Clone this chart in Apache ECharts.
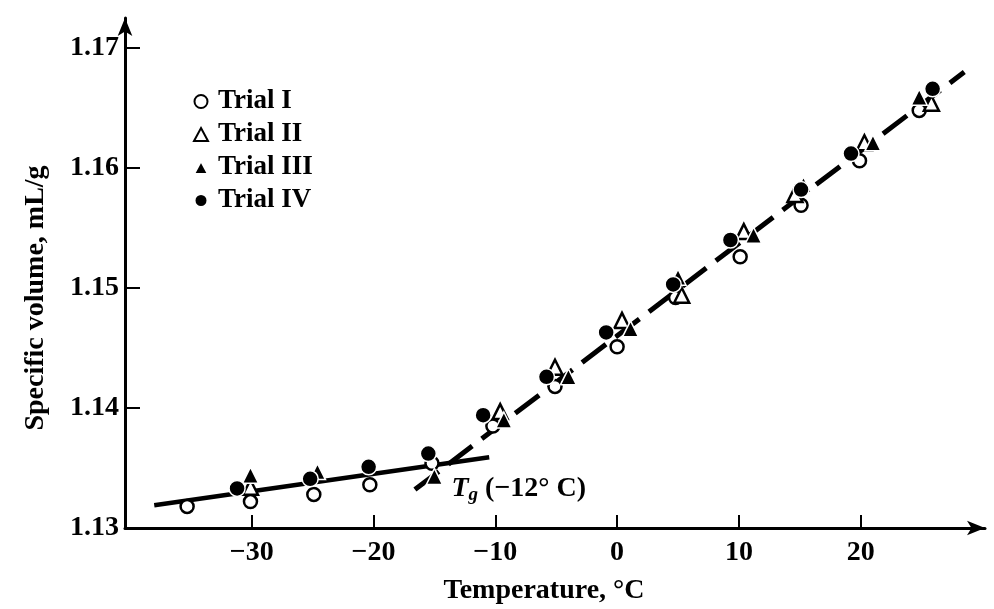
<!DOCTYPE html>
<html>
<head>
<meta charset="utf-8">
<script src="https://cdn.jsdelivr.net/npm/echarts@6/dist/echarts.min.js"></script>
<style>
html,body{margin:0;padding:0;background:#fff;}
#c{width:994px;height:609px;}
</style>
</head>
<body>
<div id="c"></div>
<script>
// ---- data ----
var xTicks = [-30, -20, -10, 0, 10, 20];
var yTicks = [1.13, 1.14, 1.15, 1.16, 1.17];

var trial1X = [-35.3, -30.1, -24.9, -20.3, -15.2, -10.2, -5.1, 0.0, 4.8, 10.1, 15.1, 19.9, 24.8];
var trial1Y = [1.1318, 1.1322, 1.1328, 1.1336, 1.1354, 1.1385, 1.1418, 1.1451, 1.1492, 1.1526, 1.1569, 1.1606, 1.1648];

var trial2X = [-30.1, -9.6, -5.1, 0.4, 5.3, 10.4, 14.6, 20.3, 25.8];
var trial2Y = [1.1334, 1.1397, 1.1434, 1.1473, 1.1494, 1.1547, 1.1578, 1.1621, 1.1654];

var trial3X = [-30.1, -24.6, -15.0, -9.3, -4.0, 1.1, 5.0, 11.2, 15.3, 21.0, 24.8];
var trial3Y = [1.1344, 1.1347, 1.1343, 1.1390, 1.1426, 1.1466, 1.1509, 1.1544, 1.1586, 1.1621, 1.1659];

var trial4X = [-31.2, -25.2, -20.4, -15.5, -11.0, -5.8, -0.9, 4.6, 9.3, 15.1, 19.2, 25.9];
var trial4Y = [1.1333, 1.1341, 1.1351, 1.1362, 1.1394, 1.1426, 1.1463, 1.1503, 1.1540, 1.1582, 1.1612, 1.1666];

var glassLineX = [-38.0, -10.5];
var glassLineY = [1.1319, 1.1359];
var rubberLineX = [-16.6, 28.5];
var rubberLineY = [1.1332, 1.1680];

var tgLabelX = -13.6;
var tgLabelY = 1.1333;

function zip(xs, ys){ return xs.map(function(x,i){ return [x, ys[i]]; }); }

var FONT = 'Liberation Serif';
var chart = echarts.init(document.getElementById('c'), null, {renderer:'canvas'});

var openStyle = {color:'#fff', borderColor:'#000', borderWidth:2.5, opacity:1};
var fillStyle = {color:'#000', borderColor:'#fff', borderWidth:1.5, opacity:1};

chart.setOption({
  animation:false,
  backgroundColor:'#fff',
  grid:{left:125, right:9, top:18, bottom:81, containLabel:false, outerBoundsMode:'none'},
  legend:{
    orient:'vertical', left:188, top:83, itemGap:6,
    itemWidth:14, itemHeight:13,
    textStyle:{fontFamily:FONT, fontWeight:'bold', fontSize:27, color:'#000', padding:[0,0,0,5]},
    data:['Trial I','Trial II','Trial III','Trial IV']
  },
  xAxis:{
    type:'value', min:-40.4, max:30.2,
    name:'Temperature, °C', nameLocation:'middle', nameGap:49,
    nameTextStyle:{fontFamily:FONT, fontWeight:'bold', fontSize:28, color:'#000', padding:[0,22,0,0]},
    axisLine:{show:true, onZero:false, lineStyle:{color:'#000', width:3}, symbol:['none','arrow'], symbolSize:[11,18]},
    axisTick:{show:true, inside:true, length:13, lineStyle:{color:'#000', width:2}, customValues:xTicks},
    axisLabel:{fontFamily:FONT, fontWeight:'bold', fontSize:28, color:'#000', margin:11, customValues:xTicks,
      formatter:function(v){ return v < 0 ? '\u2212' + Math.abs(v) : String(v); }},
    splitLine:{show:false}
  },
  yAxis:{
    type:'value', min:1.13, max:1.1725,
    name:'Specific volume, mL/g', nameLocation:'middle', nameGap:75, nameRotate:90,
    nameTextStyle:{fontFamily:FONT, fontWeight:'bold', fontSize:28, color:'#000', padding:[0,50,0,0]},
    axisLine:{show:true, onZero:false, lineStyle:{color:'#000', width:3}, symbol:['none','arrow'], symbolSize:[11,18]},
    axisTick:{show:true, inside:true, length:15, lineStyle:{color:'#000', width:2}, customValues:yTicks},
    axisLabel:{fontFamily:FONT, fontWeight:'bold', fontSize:28, color:'#000', margin:6, customValues:yTicks,
      formatter:function(v){ return v.toFixed(2); }},
    splitLine:{show:false}
  },
  series:[
    {type:'line', name:'glass', data:zip(glassLineX, glassLineY), symbol:'none', silent:true, z:1,
      lineStyle:{color:'#000', width:4.5, cap:'butt'},
      markPoint:{symbol:'circle', symbolSize:0, silent:true,
        data:[{coord:[tgLabelX, tgLabelY], value:''}],
        label:{show:true, position:'right', distance:0, formatter:'{t|T}{g|g}{p| (\u221212° C)}',
          rich:{
            t:{fontFamily:FONT, fontStyle:'italic', fontWeight:'bold', fontSize:28, color:'#000', lineHeight:32},
            g:{fontFamily:FONT, fontStyle:'italic', fontWeight:'bold', fontSize:19, color:'#000', verticalAlign:'bottom', lineHeight:32, padding:[16,0,0,0]},
            p:{fontFamily:FONT, fontWeight:'bold', fontSize:28, color:'#000', lineHeight:32}
          }}
      }},
    {type:'line', name:'rubber', data:zip(rubberLineX, rubberLineY), symbol:'none', silent:true, z:1,
      lineStyle:{color:'#000', width:5, type:[30,12], cap:'butt'}},
    {type:'scatter', name:'Trial I', data:zip(trial1X, trial1Y), symbol:'circle', symbolSize:13, z:3, itemStyle:openStyle},
    {type:'scatter', name:'Trial II', data:zip(trial2X, trial2Y), symbol:'triangle', symbolSize:15, z:3, itemStyle:openStyle},
    {type:'scatter', name:'Trial III', data:zip(trial3X, trial3Y), symbol:'triangle', symbolSize:16, z:4, itemStyle:fillStyle},
    {type:'scatter', name:'Trial IV', data:zip(trial4X, trial4Y), symbol:'circle', symbolSize:16, z:4, itemStyle:fillStyle}
  ]
});
</script>
</body>
</html>
